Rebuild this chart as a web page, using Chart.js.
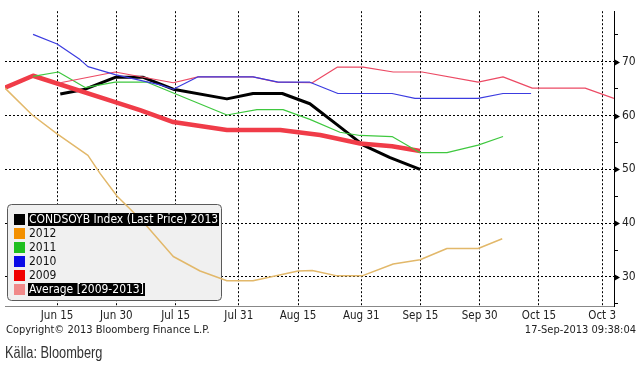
<!DOCTYPE html>
<html>
<head>
<meta charset="utf-8">
<script src="https://cdn.jsdelivr.net/npm/chart.js@4"></script>
<style>
  html, body { margin:0; padding:0; background:#fff; }
  #wrap { position:relative; width:641px; height:365px; overflow:hidden; }
  canvas { position:absolute; left:0; top:0; }
  .t { position:absolute; font-family:"DejaVu Sans Condensed","DejaVu Sans",sans-serif; color:#222; white-space:nowrap; }
  #legend { position:absolute; left:7px; top:204px; width:215px; height:97px; background:transparent; }
  .row { position:absolute; left:7px; height:14px; font-family:"DejaVu Sans Condensed","DejaVu Sans",sans-serif;
         font-size:12px; line-height:13px; color:#111; white-space:nowrap; }
  .sw { position:absolute; left:0; top:1px; width:11px; height:11px; }
  .lb { position:absolute; left:14px; top:0; padding:0 1px; }
  .hl { background:#000; color:#fff; }
  #src { position:absolute; left:5px; top:344px; font-size:16px; font-family:'Liberation Sans Narrow','Liberation Sans',sans-serif;
         color:#333; white-space:nowrap; transform:scaleX(0.8); transform-origin:0 0; }
</style>
</head>
<body>
<div id="wrap">
  <canvas id="c" width="641" height="365"></canvas>
  <div id="legend"></div>
  <div class="t" style="left:6px;top:323px;font-size:11px;">Copyright© 2013 Bloomberg Finance L.P.</div>
  <div class="t" style="right:5px;top:323px;font-size:11px;">17-Sep-2013 09:38:04</div>
  <div id="src">Källa: Bloomberg</div>
</div>
<script>
// x values are days counted from 1 June 2013 (Jun 1 = 0)
const tickDays   = [14, 29, 44, 60, 75, 91, 106, 121, 136, 152];
const tickLabels = ["Jun 15","Jun 30","Jul 15","Jul 31","Aug 15","Aug 31","Sep 15","Sep 30","Oct 15","Oct 3"];

const days2013   = [14.8, 21.1, 28.7, 35.8, 43.4, 57, 63.6, 71, 78, 85.6, 91.5, 98.3, 105.9];
const vals2013   = [64.0, 64.9, 67.1, 67.1, 64.9, 63.1, 64.1, 64.1, 62.2, 57.9, 54.5, 52.2, 50.0];

const days2012   = [0.8, 7.7, 14, 21.8, 24.9, 29.2, 35.8, 43.4, 50.2, 57, 63.6, 75, 78.6, 84.9, 91.2, 99.1, 105.9, 112.7, 120.6, 126.7];
const vals2012   = [65.1, 60.1, 56.6, 52.6, 49.2, 45.0, 40.2, 33.8, 31.1, 29.3, 29.3, 31.1, 31.2, 30.2, 30.2, 32.4, 33.2, 35.3, 35.3, 37.1];

const days2011   = [7.9, 14.3, 21.1, 28.7, 36.8, 57, 64.6, 71.2, 78, 85.6, 90.7, 98.8, 105.9, 112.7, 120.6, 126.9];
const vals2011   = [67.3, 68.1, 65.2, 66.2, 66.2, 60.1, 61.1, 61.1, 59.3, 56.9, 56.3, 56.1, 53.1, 53.1, 54.5, 56.1];

const days2010   = [7.9, 14, 19.8, 21.8, 28.7, 40.1, 43.4, 49.7, 63.6, 70, 78, 85.1, 98.8, 104.6, 120.6, 126.9, 134];
const vals2010   = [75.1, 73.3, 70.4, 69.1, 67.6, 65.7, 64.9, 67.2, 67.2, 66.2, 66.2, 64.1, 64.1, 63.2, 63.2, 64.1, 64.1];

const days2009   = [14.8, 28.7, 43.4, 49.7, 63.6, 69.7, 78.6, 84.9, 91.5, 99.1, 106.4, 120.6, 126.9, 134.3, 147.7, 155];
const vals2009   = [66.1, 68.1, 66.1, 67.2, 67.2, 66.2, 66.1, 69.0, 69.0, 68.1, 68.1, 66.2, 67.2, 65.1, 65.1, 63.2];

const daysAvg    = [0.8, 7.9, 28.7, 35, 43.4, 57, 70.5, 80.6, 90.7, 98.8, 105.9];
const valsAvg    = [65.2, 67.4, 62.5, 61.0, 58.8, 57.3, 57.3, 56.4, 54.8, 54.3, 53.4];

const legendNames = ["CONDSOYB Index (Last Price) 2013", "2012", "2011", "2010", "2009", "Average [2009-2013]"];
const legendColors = ["#000000", "#f39000", "#1fbf1f", "#0a0ae6", "#f00000", "#f08a8a"];

const pts = (d, v) => d.map((x, i) => ({x: x, y: v[i]}));

// legend (HTML text over a box drawn on the canvas below the lines)
const lg = document.getElementById('legend');
legendNames.forEach((n, i) => {
  const r = document.createElement('div');
  r.className = 'row';
  r.style.top = (9 + i * 14) + 'px';
  const hl = (i === 0 || i === legendNames.length - 1) ? ' hl' : '';
  r.innerHTML = '<div class="sw" style="background:' + legendColors[i] + '"></div><span class="lb' + hl + '">' + n + '</span>';
  lg.appendChild(r);
});

const legendBoxPlugin = {
  id: 'legendBox',
  beforeDatasetsDraw(chart) {
    const ctx = chart.ctx;
    const x = 7.5, y = 204.5, w = 214, h = 96, r = 4;
    ctx.save();
    ctx.beginPath();
    ctx.moveTo(x + r, y);
    ctx.lineTo(x + w - r, y); ctx.arcTo(x + w, y, x + w, y + r, r);
    ctx.lineTo(x + w, y + h - r); ctx.arcTo(x + w, y + h, x + w - r, y + h, r);
    ctx.lineTo(x + r, y + h); ctx.arcTo(x, y + h, x, y + h - r, r);
    ctx.lineTo(x, y + r); ctx.arcTo(x, y, x + r, y, r);
    ctx.closePath();
    ctx.fillStyle = '#f0f0f0';
    ctx.fill();
    ctx.strokeStyle = '#5a5a5a';
    ctx.lineWidth = 1;
    ctx.stroke();
    ctx.restore();
  }
};

const arrowPlugin = {
  id: 'arrows',
  afterDraw(chart) {
    const ys = chart.scales.y, ctx = chart.ctx;
    const x0 = ys.left;
    ctx.save();
    ctx.fillStyle = '#000';
    [30, 40, 50, 60, 70].forEach(v => {
      const y = Math.round(ys.getPixelForValue(v)) + 0.5;
      ctx.beginPath();
      ctx.moveTo(x0, y - 3.5);
      ctx.lineTo(x0 + 6, y);
      ctx.lineTo(x0, y + 3.5);
      ctx.closePath();
      ctx.fill();
    });
    ctx.restore();
  }
};

new Chart(document.getElementById('c'), {
  type: 'line',
  data: {
    datasets: [
      { label: '2012', data: pts(days2012, vals2012), borderColor: '#e2b86a', borderWidth: 1.5 },
      { label: '2010', data: pts(days2010, vals2010), borderColor: '#3c3ce0', borderWidth: 1.2 },
      { label: '2009', data: pts(days2009, vals2009), borderColor: '#ec4a64', borderWidth: 1.2 },
      { label: '2011', data: pts(days2011, vals2011), borderColor: '#3fc83f', borderWidth: 1.2 },
      { label: 'Average', data: pts(daysAvg, valsAvg), borderColor: '#f03c48', borderWidth: 4.5 },
      { label: '2013', data: pts(days2013, vals2013), borderColor: '#000000', borderWidth: 3 }
    ]
  },
  options: {
    responsive: false,
    animation: false,
    devicePixelRatio: 1,
    layout: { padding: { left: 5, top: 3, right: 0, bottom: 0 } },
    elements: { point: { radius: 0 }, line: { tension: 0, borderCapStyle: 'butt', borderJoinStyle: 'round' } },
    plugins: { legend: { display: false }, tooltip: { enabled: false } },
    scales: {
      x: {
        type: 'linear',
        min: 0.8, max: 155,
        afterBuildTicks: s => { s.ticks = tickDays.map(v => ({ value: v })); },
        afterFit: s => { s.height = 59; },
        ticks: {
          autoSkip: false, maxRotation: 0, padding: 3,
          color: '#222',
          font: { family: "'DejaVu Sans Condensed','DejaVu Sans',sans-serif", size: 11.5 },
          callback: v => { const i = tickDays.indexOf(v); return i >= 0 ? tickLabels[i] : ''; }
        },
        grid: { color: '#000', lineWidth: 1, drawTicks: false },
        border: { display: true, color: '#888', width: 1, dash: [2, 2] }
      },
      y: {
        position: 'right',
        min: 24.6, max: 79.4,
        afterBuildTicks: s => { const t = []; for (let v = 25; v <= 75; v += 5) t.push({ value: v }); s.ticks = t; },
        afterFit: s => { s.width = 27; },
        ticks: {
          padding: 4, color: '#222',
          font: { family: "'DejaVu Sans Condensed','DejaVu Sans',sans-serif", size: 12 },
          callback: v => (v % 10 === 0 ? String(v) : '')
        },
        grid: {
          color: c => (c.tick && c.tick.value % 10 === 0) ? '#000' : 'rgba(0,0,0,0)',
          tickColor: '#000', tickLength: 4, lineWidth: 1, drawTicks: true
        },
        border: { display: true, color: '#000', width: 1, dash: [2, 2] }
      }
    }
  },
  plugins: [legendBoxPlugin, arrowPlugin]
});
</script>
</body>
</html>
